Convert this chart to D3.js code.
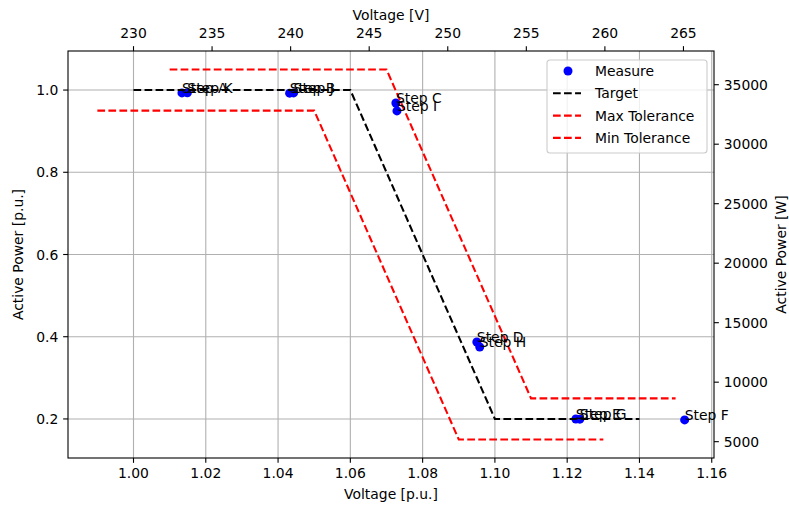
<!DOCTYPE html>
<html>
<head>
<meta charset="utf-8">
<script src="https://cdn.jsdelivr.net/npm/d3@7"></script>
<style>
  html, body { margin: 0; padding: 0; background: #fff; }
  svg text { font-family: "DejaVu Sans", sans-serif; fill: #000; }
</style>
</head>
<body>
<svg id="chart" width="789" height="509"></svg>
<script>
// Measured operating points (voltage in p.u., active power in p.u.)
const stepLabels = ["Step A", "Step B", "Step C", "Step D", "Step E", "Step F",
                    "Step G", "Step H", "Step I", "Step J", "Step K"];
const measuredVoltage = [1.0134, 1.0432, 1.0726, 1.0950, 1.1224, 1.1525,
                         1.1235, 1.0958, 1.0729, 1.0443, 1.0149];
const measuredPower = [0.9930, 0.9925, 0.9685, 0.3873, 0.2000, 0.1976,
                       0.1995, 0.3751, 0.9492, 0.9930, 0.9935];

// Volt-watt target curve and its tolerance band
const targetVoltage = [1.00, 1.06, 1.10, 1.14];
const targetPower = [1.00, 1.00, 0.20, 0.20];
const maxTolVoltage = [1.01, 1.07, 1.11, 1.15];
const maxTolPower = [1.05, 1.05, 0.25, 0.25];
const minTolVoltage = [0.99, 1.05, 1.09, 1.13];
const minTolPower = [0.95, 0.95, 0.15, 0.15];

// Axis ticks
const puVoltageTicks = [1.00, 1.02, 1.04, 1.06, 1.08, 1.10, 1.12, 1.14, 1.16];
const voltTicks = [230, 235, 240, 245, 250, 255, 260, 265];
const puPowerTicks = [0.2, 0.4, 0.6, 0.8, 1.0];
const wattTicks = [5000, 10000, 15000, 20000, 25000, 30000, 35000];

// Base quantities for the secondary axes
const baseVoltage = 230;
const basePower = 34550;

const svg = d3.select("#chart");
const L = 68, R = 714, T = 51, B = 458;
const FS = 13.9;

// Axis limits with 5% margins around the plotted data
const allX = measuredVoltage.concat(targetVoltage, maxTolVoltage, minTolVoltage);
const allY = measuredPower.concat(targetPower, maxTolPower, minTolPower);
const [x0, x1] = d3.extent(allX), [y0, y1] = d3.extent(allY);
const mx = (x1 - x0) * 0.05, my = (y1 - y0) * 0.05;

const x = d3.scaleLinear().domain([x0 - mx, x1 + mx]).range([L, R]);
const y = d3.scaleLinear().domain([y0 - my, y1 + my]).range([B, T]);
const xTop = d3.scaleLinear().domain(x.domain().map(v => v * baseVoltage)).range([L, R]);
const yRight = d3.scaleLinear().domain(y.domain().map(v => v * basePower)).range([B, T]);

// Grid
const grid = svg.append("g");
grid.selectAll("line.gx").data(puVoltageTicks).join("line")
  .attr("x1", d => x(d)).attr("x2", d => x(d)).attr("y1", T).attr("y2", B)
  .attr("stroke", "#b0b0b0").attr("stroke-width", 1.1);
grid.selectAll("line.gy").data(puPowerTicks).join("line")
  .attr("x1", L).attr("x2", R).attr("y1", d => y(d)).attr("y2", d => y(d))
  .attr("stroke", "#b0b0b0").attr("stroke-width", 1.1);

// Measurements
svg.append("g").selectAll("circle").data(measuredVoltage).join("circle")
  .attr("cx", d => x(d)).attr("cy", (d, i) => y(measuredPower[i]))
  .attr("r", 4.5).attr("fill", "#0000ff");

// Target and tolerance curves
const line = d3.line().x(d => x(d[0])).y(d => y(d[1]));
const curves = [
  { v: targetVoltage, p: targetPower, c: "#000000" },
  { v: maxTolVoltage, p: maxTolPower, c: "#ff0000" },
  { v: minTolVoltage, p: minTolPower, c: "#ff0000" }
];
svg.append("g").selectAll("path").data(curves).join("path")
  .attr("d", d => line(d.v.map((v, i) => [v, d.p[i]])))
  .attr("fill", "none").attr("stroke", d => d.c).attr("stroke-width", 2.08)
  .attr("stroke-dasharray", "7.7,3.33");

// Step labels
svg.append("g").selectAll("text").data(stepLabels).join("text")
  .attr("x", (d, i) => x(measuredVoltage[i])).attr("y", (d, i) => y(measuredPower[i]))
  .attr("font-size", FS).text(d => d);

// Frame
svg.append("rect").attr("x", L).attr("y", T).attr("width", R - L).attr("height", B - T)
  .attr("fill", "none").attr("stroke", "#000").attr("stroke-width", 1.1);

const TL = 4.86, PAD = 4.86;
const axes = svg.append("g");

// Bottom axis
axes.selectAll("line.bt").data(puVoltageTicks).join("line")
  .attr("x1", d => x(d)).attr("x2", d => x(d)).attr("y1", B).attr("y2", B + TL)
  .attr("stroke", "#000").attr("stroke-width", 1.1);
axes.selectAll("text.bt").data(puVoltageTicks).join("text")
  .attr("x", d => x(d)).attr("y", B + TL + PAD + 10.1).attr("text-anchor", "middle")
  .attr("font-size", FS).text(d => d3.format(".2f")(d));
axes.append("text").attr("x", (L + R) / 2).attr("y", 498.5).attr("text-anchor", "middle")
  .attr("font-size", FS).text("Voltage [p.u.]");

// Top axis
const topG = svg.append("g");
topG.selectAll("line").data(voltTicks).join("line")
  .attr("x1", d => xTop(d)).attr("x2", d => xTop(d)).attr("y1", T).attr("y2", T - TL)
  .attr("stroke", "#000").attr("stroke-width", 1.1);
topG.selectAll("text").data(voltTicks).join("text")
  .attr("x", d => xTop(d)).attr("y", T - TL - PAD - 3.3).attr("text-anchor", "middle")
  .attr("font-size", FS).text(d => d);
svg.append("text").attr("x", (L + R) / 2).attr("y", 20).attr("text-anchor", "middle")
  .attr("font-size", FS).text("Voltage [V]");

// Left axis
const leftG = svg.append("g");
leftG.selectAll("line").data(puPowerTicks).join("line")
  .attr("x1", L).attr("x2", L - TL).attr("y1", d => y(d)).attr("y2", d => y(d))
  .attr("stroke", "#000").attr("stroke-width", 1.1);
leftG.selectAll("text").data(puPowerTicks).join("text")
  .attr("x", L - TL - PAD).attr("y", d => y(d) + 5).attr("text-anchor", "end")
  .attr("font-size", FS).text(d => d3.format(".1f")(d));
svg.append("text").attr("transform", `translate(23,${(T + B) / 2}) rotate(-90)`)
  .attr("text-anchor", "middle").attr("font-size", FS).text("Active Power [p.u.]");

// Right axis
const rightG = svg.append("g");
rightG.selectAll("line").data(wattTicks).join("line")
  .attr("x1", R).attr("x2", R + TL).attr("y1", d => yRight(d)).attr("y2", d => yRight(d))
  .attr("stroke", "#000").attr("stroke-width", 1.1);
rightG.selectAll("text").data(wattTicks).join("text")
  .attr("x", R + TL + PAD).attr("y", d => yRight(d) + 5).attr("text-anchor", "start")
  .attr("font-size", FS).text(d => d);
svg.append("text").attr("transform", `translate(785.5,${(T + B) / 2}) rotate(-90)`)
  .attr("text-anchor", "middle").attr("font-size", FS).text("Active Power [W]");

// Legend
const lg = svg.append("g").attr("transform", "translate(547,60)");
lg.append("rect").attr("width", 160).attr("height", 93).attr("rx", 3)
  .attr("fill", "#fff").attr("fill-opacity", 0.8).attr("stroke", "#cccccc").attr("stroke-width", 1.1);
const legendItems = [
  { label: "Measure", type: "dot", c: "#0000ff" },
  { label: "Target", type: "line", c: "#000000" },
  { label: "Max Tolerance", type: "line", c: "#ff0000" },
  { label: "Min Tolerance", type: "line", c: "#ff0000" }
];
legendItems.forEach((it, i) => {
  const cy = 11 + i * 22.3;
  if (it.type === "dot") {
    lg.append("circle").attr("cx", 21).attr("cy", cy).attr("r", 4.5).attr("fill", it.c);
  } else {
    lg.append("line").attr("x1", 6).attr("x2", 34).attr("y1", cy).attr("y2", cy)
      .attr("stroke", it.c).attr("stroke-width", 2.08).attr("stroke-dasharray", "7.7,3.33");
  }
  lg.append("text").attr("x", 48).attr("y", cy + 5).attr("font-size", FS).text(it.label);
});
</script>
</body>
</html>
